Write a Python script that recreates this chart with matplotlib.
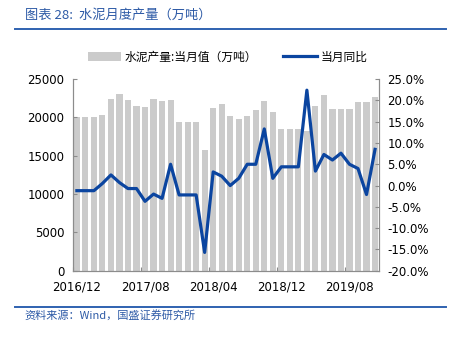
import matplotlib

matplotlib.use("Agg")

import matplotlib.pyplot as plt
import numpy as np

plt.rcParams["font.family"] = ["DejaVu Sans", "Noto Sans CJK SC"]

CJK = ["Noto Sans CJK SC", "DejaVu Sans"]
BAR_COLOR = "#CBCBCB"
LINE_COLOR = "#0B45A0"
TITLE_COLOR = "#2D5AA6"
AXIS_COLOR = "#8C8C8C"

# monthly data, 2016/12 .. 2019/11
months = [f"{2016 + (11 + i) // 12}/{(11 + i) % 12 + 1:02d}" for i in range(36)]
output = [
    20100, 20100, 20100, 20350, 22350, 23050, 22300, 21500, 21400, 22400,
    22200, 22250, 19400, 19400, 19400, 15700, 21250, 21700, 20200, 19850,
    20200, 21000, 22200, 20700, 18550, 18550, 18550, 18200, 21550, 22900,
    21150, 21150, 21150, 21950, 22050, 22700,
]
yoy = [
    -1.2, -1.2, -1.2, 0.5, 2.5, 0.7, -0.7, -0.7, -3.7, -2.0,
    -3.0, 5.0, -2.2, -2.2, -2.2, -15.7, 3.2, 2.2, 0.0, 1.7,
    5.0, 5.0, 13.3, 1.7, 4.4, 4.4, 4.4, 22.4, 3.4, 7.3,
    6.0, 7.6, 5.0, 4.0, -2.1, 8.5,
]
label_every = 8

fig = plt.figure(figsize=(4.51, 3.38), dpi=100)
ax = fig.add_axes([0.161, 0.199, 0.680, 0.567])
ax2 = ax.twinx()

x = np.arange(len(months))
bars = ax.bar(x, output, width=0.72, color=BAR_COLOR, label="水泥产量:当月值（万吨）", zorder=1)
line, = ax2.plot(x, yoy, color=LINE_COLOR, linewidth=2.3, label="当月同比", zorder=3)

ax.set_xlim(-0.5, len(months) - 0.5)
ax.set_ylim(0, 25000)
ax.set_yticks(np.arange(0, 25001, 5000))
ax2.set_ylim(-20, 25)
ax2.set_yticks(np.arange(-20, 25.1, 5))
ax2.set_yticklabels([f"{v:.1f}%" for v in np.arange(-20, 25.1, 5)])

# ticks on category boundaries, labels on category centres
ax.set_xticks(np.arange(-0.5, len(months), label_every))
ax.set_xticklabels([])
ax.set_xticks(x[::label_every], minor=True)
ax.set_xticklabels(months[::label_every], minor=True)
ax.tick_params(axis="x", which="minor", length=0, pad=7, labelsize=8.5)
ax.tick_params(axis="x", which="major", direction="in", length=3, color=AXIS_COLOR)

for a in (ax, ax2):
    a.tick_params(axis="y", direction="in", length=3, color=AXIS_COLOR, labelsize=8.5, pad=6)
    a.spines["top"].set_visible(False)
    for side in ("left", "right", "bottom"):
        a.spines[side].set_color(AXIS_COLOR)
        a.spines[side].set_linewidth(0.8)
ax2.set_zorder(ax.get_zorder() + 1)
ax2.patch.set_visible(False)

leg = fig.legend(
    [bars, line], ["水泥产量:当月值（万吨）", "当月同比"],
    loc="center", bbox_to_anchor=(0.505, 0.831), ncol=2, frameon=False,
    prop={"family": CJK, "size": 8.5}, handlelength=2.8, handleheight=0.8,
    handletextpad=0.35, columnspacing=2.2,
)

fig.text(0.055, 0.955, "图表 28:  水泥月度产量（万吨）", family=CJK, style="italic",
         fontsize=9.5, color=TITLE_COLOR, va="center")
fig.add_artist(plt.Line2D([0.033, 0.988], [0.915, 0.915], color="#2F62B0", linewidth=1.4))
fig.add_artist(plt.Line2D([0.033, 0.988], [0.092, 0.092], color="#2F62B0", linewidth=1.4))
fig.text(0.055, 0.066, "资料来源：Wind，国盛证券研究所", family=CJK, style="italic",
         fontsize=8, color=TITLE_COLOR, va="center")

fig.savefig("out.png", dpi=100)
